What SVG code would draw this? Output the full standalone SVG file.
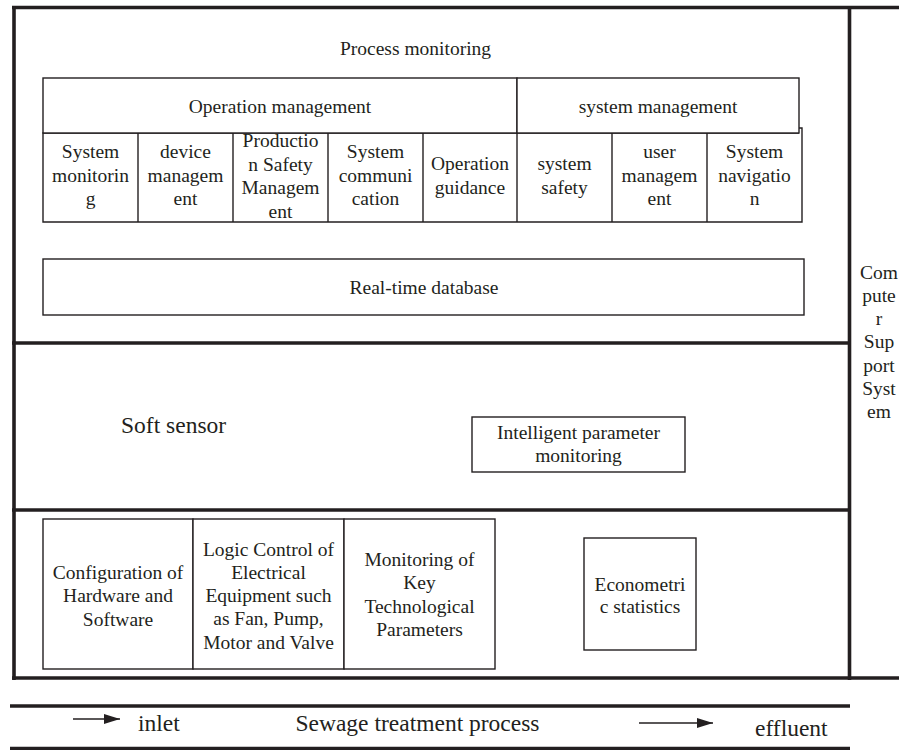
<svg xmlns="http://www.w3.org/2000/svg" width="899" height="750" viewBox="0 0 899 750">
<defs>
<style>
.thick{stroke:#231f20;stroke-width:3.6;fill:none;}
.thin{stroke:#231f20;stroke-width:1.4;fill:#fff;}
text{font-family:'Liberation Serif','DejaVu Serif','Times New Roman',serif;}
.t{font-size:19.5px;fill:#231f20;text-anchor:middle;}
.big{font-size:23.5px;fill:#231f20;}
</style>
<marker id="ah" viewBox="0 0 16 10" refX="16" refY="5" markerWidth="16" markerHeight="10" markerUnits="userSpaceOnUse" orient="auto">
<path d="M0,0 L16,5 L0,10 Z" fill="#231f20"/>
</marker>
</defs>
<rect width="899" height="750" fill="#fff"/>
<g font-family="Liberation Serif, DejaVu Serif, serif">

<g id="frame">
<line class="thick" x1="12" y1="7.5" x2="899" y2="7.5"/>
<line class="thick" x1="14" y1="6" x2="14" y2="680"/>
<line class="thick" x1="849.5" y1="6" x2="849.5" y2="680"/>
<line class="thick" x1="12" y1="678" x2="899" y2="678"/>
<line class="thick" x1="12" y1="343" x2="851" y2="343"/>
<line class="thick" x1="12" y1="510" x2="851" y2="510"/>
</g>

<g id="process-monitoring">
<text class="t" x="415.5" y="55">Process monitoring</text>
</g>

<g id="cells">
<path class="thin" d="M799,128 H802 V222 H43 V133 H799"/>
<line class="thin" x1="138" y1="133" x2="138" y2="222"/>
<line class="thin" x1="233" y1="133" x2="233" y2="222"/>
<line class="thin" x1="328" y1="133" x2="328" y2="222"/>
<line class="thin" x1="423" y1="133" x2="423" y2="222"/>
<line class="thin" x1="517" y1="133" x2="517" y2="222"/>
<line class="thin" x1="612" y1="133" x2="612" y2="222"/>
<line class="thin" x1="707" y1="133" x2="707" y2="222"/>
</g>

<g id="operation-management">
<rect class="thin" x="43" y="78" width="474" height="55"/>
<text class="t" x="280" y="112.5">Operation management</text>
</g>
<g id="system-management">
<rect class="thin" x="517" y="78" width="282" height="55"/>
<text class="t" x="658" y="112.5">system management</text>
</g>

<g id="system-monitoring">
<text class="t" x="90.5" y="158">System</text>
<text class="t" x="90.5" y="181.5">monitorin</text>
<text class="t" x="90.5" y="205">g</text>
</g>
<g id="device-management">
<text class="t" x="185.5" y="158">device</text>
<text class="t" x="185.5" y="181.5">managem</text>
<text class="t" x="185.5" y="205">ent</text>
</g>
<g id="production-safety">
<text class="t" x="280.5" y="147">Productio</text>
<text class="t" x="280.5" y="170.5">n Safety</text>
<text class="t" x="280.5" y="194">Managem</text>
<text class="t" x="280.5" y="217.5">ent</text>
</g>
<g id="system-communication">
<text class="t" x="375.5" y="158">System</text>
<text class="t" x="375.5" y="181.5">communi</text>
<text class="t" x="375.5" y="205">cation</text>
</g>
<g id="operation-guidance">
<text class="t" x="470" y="170">Operation</text>
<text class="t" x="470" y="193.5">guidance</text>
</g>
<g id="system-safety">
<text class="t" x="564.5" y="170">system</text>
<text class="t" x="564.5" y="193.5">safety</text>
</g>
<g id="user-management">
<text class="t" x="659.5" y="158">user</text>
<text class="t" x="659.5" y="181.5">managem</text>
<text class="t" x="659.5" y="205">ent</text>
</g>
<g id="system-navigation">
<text class="t" x="754.5" y="158">System</text>
<text class="t" x="754.5" y="181.5">navigatio</text>
<text class="t" x="754.5" y="205">n</text>
</g>

<g id="real-time-database">
<rect class="thin" x="43" y="259" width="761" height="56"/>
<text class="t" x="424" y="294">Real-time database</text>
</g>

<g id="soft-sensor">
<text class="big" x="121" y="433">Soft sensor</text>
</g>

<g id="intelligent-parameter-monitoring">
<rect class="thin" x="472" y="417" width="213" height="55"/>
<text class="t" x="578.5" y="439">Intelligent parameter</text>
<text class="t" x="578.5" y="462">monitoring</text>
</g>

<g id="computer-support-system">
<text class="t" x="879" y="278.5">Com</text>
<text class="t" x="879" y="301.8">pute</text>
<text class="t" x="879" y="325.1">r</text>
<text class="t" x="879" y="348.4">Sup</text>
<text class="t" x="879" y="371.7">port</text>
<text class="t" x="879" y="395">Syst</text>
<text class="t" x="879" y="418.3">em</text>
</g>

<g id="configuration">
<rect class="thin" x="43" y="519" width="150" height="150"/>
<text class="t" x="118" y="579">Configuration of</text>
<text class="t" x="118" y="602.3">Hardware and</text>
<text class="t" x="118" y="625.6">Software</text>
</g>
<g id="logic-control">
<rect class="thin" x="193" y="519" width="151" height="150"/>
<text class="t" x="268.5" y="555.5">Logic Control of</text>
<text class="t" x="268.5" y="578.8">Electrical</text>
<text class="t" x="268.5" y="602.1">Equipment such</text>
<text class="t" x="268.5" y="625.4">as Fan, Pump,</text>
<text class="t" x="268.5" y="648.7">Motor and Valve</text>
</g>
<g id="key-parameters">
<rect class="thin" x="344" y="519" width="151" height="150"/>
<text class="t" x="419.5" y="566">Monitoring of</text>
<text class="t" x="419.5" y="589.3">Key</text>
<text class="t" x="419.5" y="612.6">Technological</text>
<text class="t" x="419.5" y="635.9">Parameters</text>
</g>
<g id="econometric-statistics">
<rect class="thin" x="584" y="538" width="112" height="112"/>
<text class="t" x="640" y="590.5">Econometri</text>
<text class="t" x="640" y="613">c statistics</text>
</g>

<g id="sewage-process">
<line class="thick" x1="10" y1="706" x2="850" y2="706"/>
<line class="thick" x1="10" y1="748.5" x2="850" y2="748.5"/>
<text class="big" x="138" y="731">inlet</text>
<text class="big" x="417.5" y="731" text-anchor="middle">Sewage treatment process</text>
<text class="big" x="755" y="736">effluent</text>
</g>

<g id="connectors">
<line x1="73" y1="719" x2="120" y2="719" stroke="#231f20" stroke-width="1.4" marker-end="url(#ah)"/>
<line x1="639" y1="723" x2="713" y2="723" stroke="#231f20" stroke-width="1.4" marker-end="url(#ah)"/>
</g>
</g>
</svg>
